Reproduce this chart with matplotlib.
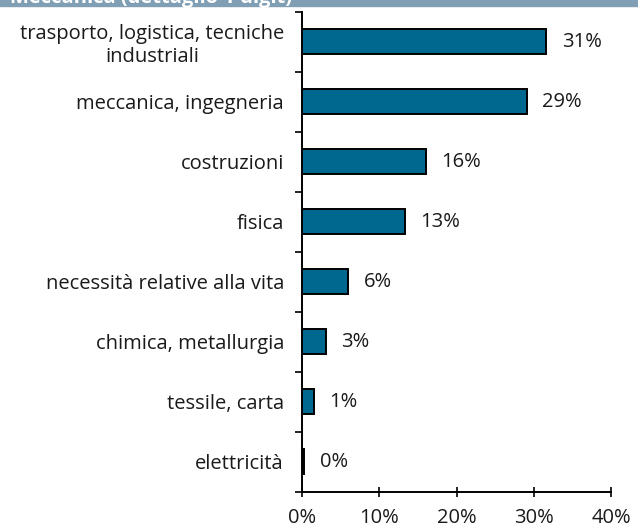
import matplotlib.pyplot as plt
import numpy as np
from matplotlib.patches import Rectangle

plt.rcParams['font.family'] = ['Open Sans', 'DejaVu Sans']

# shares by technology class
categories = ['trasporto, logistica, tecniche\nindustriali', 'meccanica, ingegneria',
              'costruzioni', 'fisica', 'necessità relative alla vita',
              'chimica, metallurgia', 'tessile, carta', 'elettricità']
values = [31.6, 29.1, 16.0, 13.3, 6.0, 3.1, 1.5, 0.3]
labels = ['31%', '29%', '16%', '13%', '6%', '3%', '1%', '0%']
xticks = [0, 10, 20, 30, 40]

fs = 14.5
fig = plt.figure(figsize=(6.38, 5.28), dpi=100)
ax = fig.add_axes([0.4734, 0.0688, 0.4843, 0.9092])

y = np.arange(len(categories))
ax.barh(y, values, height=0.42, color='#00678f', edgecolor='black', linewidth=1.4)
for yi, v, lab in zip(y, values, labels):
    ax.text(v + 2.0, yi, lab, va='center', ha='left', fontsize=fs, color='#1a1a1a')

ax.set_ylim(len(categories) - 0.5, -0.5)
ax.set_xlim(0, 40)
ax.set_yticks(y)
ax.set_yticklabels(categories, fontsize=fs, multialignment='center', color='#1a1a1a')
ax.set_yticks(np.arange(-0.5, len(categories)), minor=True)
ax.tick_params(axis='y', which='major', length=0, pad=13)
ax.tick_params(axis='y', which='minor', length=5, width=1.2, direction='out')
ax.set_xticks(xticks)
ax.set_xticklabels([f'{t}%' for t in xticks], fontsize=fs, color='#1a1a1a')
ax.tick_params(axis='x', length=7, width=1.2, direction='inout', pad=8)

for s in ['top', 'right']:
    ax.spines[s].set_visible(False)
for s in ['left', 'bottom']:
    ax.spines[s].set_linewidth(1.4)

# title band, cut off at the top edge
fig.patches.append(Rectangle((0, 1 - 6 / 528), 1, 6 / 528, transform=fig.transFigure,
                             color='#809fb4', zorder=0))
fig.text(10 / 638, 1 - 3 / 528, 'Meccanica (dettaglio 1 digit)', color='white',
         fontsize=fs, fontweight='bold', va='baseline', ha='left')

fig.savefig('out.png', dpi=100)
